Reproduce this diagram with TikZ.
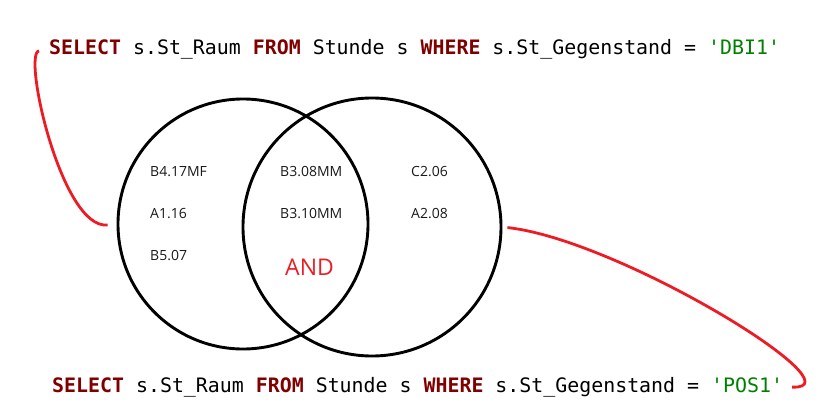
\documentclass[tikz,border=0pt]{standalone}
\usepackage{fontspec}
\setmonofont{DejaVu Sans Mono}
\setsansfont{Open Sans}
\usepackage{tikz}
\usetikzlibrary{positioning}
\definecolor{kwred}{RGB}{128,0,0}
\definecolor{valgreen}{RGB}{0,128,0}
\definecolor{linkred}{RGB}{237,28,36}
\newcommand{\kw}[1]{\textcolor{kwred}{\textbf{#1}}}
\newcommand{\sqlval}[1]{\textcolor{valgreen}{'#1'}}

\tikzset{
	query/.style={font=\ttfamily\fontsize{19.9}{24}\selectfont, inner sep=0pt, anchor=base west},
	room/.style={font=\sffamily\fontsize{14}{17}\selectfont, text=black!90, inner sep=0pt, anchor=base west},
	setcircle/.style={circle, draw, line width=2.9pt, inner sep=0pt},
	link/.style={draw=linkred, line width=2.8pt},
}

\begin{document}
\begin{tikzpicture}[x=1pt, y=-1pt]
	\useasboundingbox (0,0) rectangle (827,420);

	\node[setcircle, minimum size=250pt] (dbi) at (243,224) {};
	\node[setcircle, minimum size=258pt] (pos) at (372,227) {};

	\node[query] (q1) at (49,55) {\kw{SELECT} s.St\_Raum \kw{FROM} Stunde s \kw{WHERE} s.St\_Gegenstand = \sqlval{DBI1}};
	\node[query] (q2) at (52,392) {\kw{SELECT} s.St\_Raum \kw{FROM} Stunde s \kw{WHERE} s.St\_Gegenstand = \sqlval{POS1}};

	\node[room] (b417) at (150,176) {B4.17MF};
	\node[room, below=42pt of b417.base west, anchor=base west] (a116) {A1.16};
	\node[room, below=42pt of a116.base west, anchor=base west] (b507) {B5.07};

	\node[room] (b308) at (280,176) {B3.08MM};
	\node[room, below=42pt of b308.base west, anchor=base west] (b310) {B3.10MM};
	\node[font=\sffamily\fontsize{23}{27}\selectfont, text=linkred, inner sep=0pt, anchor=base west] (and) at (285,275) {AND};

	\node[room] (c206) at (411,176) {C2.06};
	\node[room, below=42pt of c206.base west, anchor=base west] (a208) {A2.08};

	\draw[link, shorten <=10pt, shorten >=9pt] (q1.west) .. controls +(-27,3) and +(-55,6) .. (dbi.west);
	\draw[link, shorten <=5pt, shorten >=9pt] (pos.east) .. controls +(118,13) and +(80,3) .. (q2.east);
\end{tikzpicture}
\end{document}
